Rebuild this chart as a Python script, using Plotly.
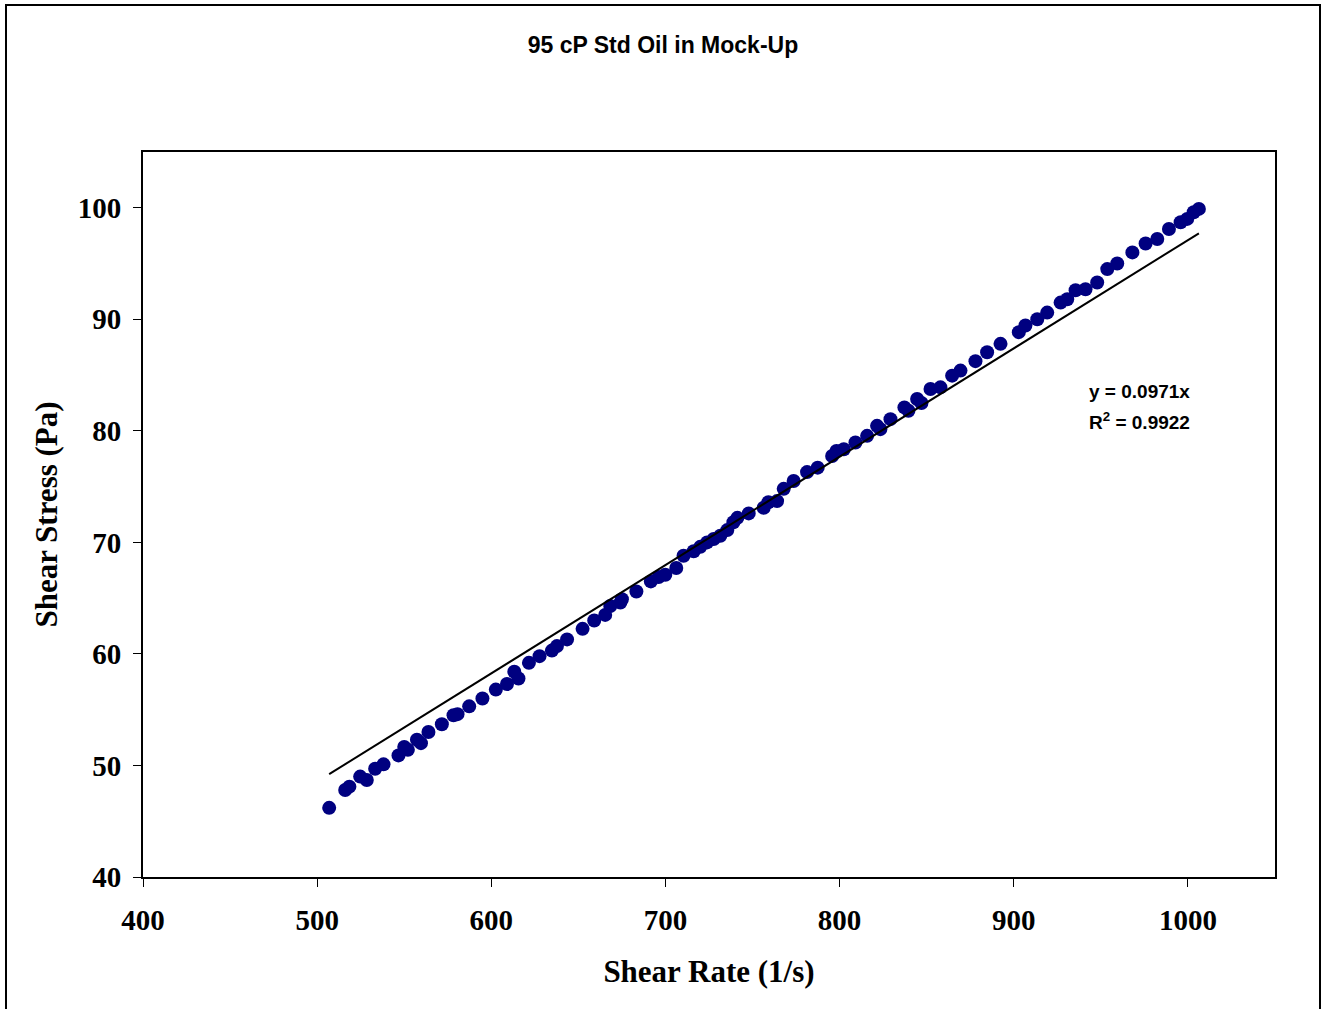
import plotly.graph_objects as go

# Measured shear rate (1/s) and shear stress (Pa)
shear_rate = [
    506.9, 516.1, 518.5, 524.7, 528.5, 533.3, 538.1, 546.7, 550.0, 552.1,
    557.3, 559.6, 563.9, 571.6, 578.3, 580.6, 587.3, 594.9, 602.6, 609.0,
    613.2, 615.6, 621.6, 627.7, 634.8, 637.7, 643.5, 652.4, 659.1, 665.4,
    668.3, 674.1, 675.0, 683.3, 691.6, 696.1, 699.9, 706.2, 710.4, 716.2,
    720.0, 723.9, 727.7, 731.5, 735.5, 739.0, 741.3, 747.8, 756.4, 759.1,
    764.1, 767.9, 773.6, 781.3, 787.4, 795.7, 798.2, 802.4, 809.1, 815.8,
    821.5, 823.4, 829.2, 837.2, 839.5, 844.5, 847.0, 852.2, 857.9, 864.6,
    869.4, 878.0, 884.7, 892.4, 902.9, 906.7, 913.5, 919.2, 926.9, 930.7,
    935.5, 941.2, 947.9, 953.7, 959.4, 968.1, 975.7, 982.4, 989.1, 995.8,
    999.6, 1003.3, 1006.3,
]
shear_stress = [
    46.2, 47.8, 48.1, 49.0, 48.7, 49.7, 50.1, 50.9, 51.65, 51.4,
    52.3, 52.0, 53.0, 53.7, 54.5, 54.6, 55.3, 56.0, 56.8, 57.3,
    58.4, 57.8, 59.2, 59.8, 60.3, 60.7, 61.3, 62.25, 63.0, 63.5,
    64.3, 64.6, 64.9, 65.6, 66.5, 66.9, 67.1, 67.7, 68.8, 69.2,
    69.6, 70.0, 70.3, 70.6, 71.1, 71.8, 72.2, 72.6, 73.1, 73.6,
    73.7, 74.8, 75.5, 76.3, 76.7, 77.75, 78.2, 78.35, 78.95, 79.55,
    80.45, 80.15, 81.05, 82.1, 81.8, 82.85, 82.5, 83.75, 83.9, 84.95,
    85.4, 86.25, 87.05, 87.8, 88.85, 89.45, 90.0, 90.6, 91.5, 91.8,
    92.6, 92.7, 93.3, 94.5, 95.0, 96.0, 96.8, 97.2, 98.1, 98.7,
    99.0, 99.6, 99.9,
]

# Linear fit through the origin
fit_slope = 0.0971
fit_r2 = 0.9922

x_ticks = [400, 500, 600, 700, 800, 900, 1000]
y_ticks = [40, 50, 60, 70, 80, 90, 100]

fit_x = [min(shear_rate), max(shear_rate)]
fit_y = [fit_slope * v for v in fit_x]

fig = go.Figure()
fig.add_trace(go.Scatter(
    x=shear_rate, y=shear_stress, mode="markers",
    marker=dict(color="#000080", size=14, line=dict(width=0)),
    showlegend=False,
))
fig.add_trace(go.Scatter(
    x=fit_x, y=fit_y, mode="lines",
    line=dict(color="black", width=2),
    showlegend=False,
))

serif = "Liberation Serif, Times New Roman, serif"
sans = "Liberation Sans, Arial, sans-serif"

fig.update_layout(
    width=1322, height=1009,
    margin=dict(l=143, r=47, t=152, b=132),
    paper_bgcolor="white", plot_bgcolor="white",
    title=dict(
        text="<b>95 cP Std Oil in Mock-Up</b>",
        x=0.5015, xanchor="center", y=1 - 45 / 1009, yanchor="middle",
        yref="container", font=dict(family=sans, size=23, color="black"),
    ),
    xaxis=dict(
        range=[400, 1050], tickvals=x_ticks, ticktext=[str(t) for t in x_ticks],
        ticks="outside", ticklen=8, tickwidth=1, tickcolor="black",
        ticklabelstandoff=8,
        showline=True, linewidth=2, linecolor="black", mirror=True,
        showgrid=False, zeroline=False,
        tickfont=dict(family=serif, size=29, color="black", weight="bold"),
        title=dict(text="<b>Shear Rate (1/s)</b>", standoff=26,
                   font=dict(family=serif, size=31, color="black")),
    ),
    yaxis=dict(
        range=[40, 105], tickvals=y_ticks, ticktext=[str(t) for t in y_ticks],
        ticks="outside", ticklen=8, tickwidth=1, tickcolor="black",
        ticklabelstandoff=6,
        showline=True, linewidth=2, linecolor="black", mirror=True,
        showgrid=False, zeroline=False,
        tickfont=dict(family=serif, size=29, color="black", weight="bold"),
        title=dict(text="<b>Shear Stress (Pa)</b>", standoff=11,
                   font=dict(family=serif, size=31, color="black")),
    ),
    annotations=[
        dict(x=972, y=83.55, xref="x", yref="y", showarrow=False,
             text="<b>y = %.4fx</b>" % fit_slope,
             font=dict(family=sans, size=19, color="black")),
        dict(x=972, y=80.9, xref="x", yref="y", showarrow=False,
             text="<b>R<sup>2</sup> = %.4f</b>" % fit_r2,
             font=dict(family=sans, size=19, color="black")),
    ],
    shapes=[
        # outer chart-area border
        dict(type="rect", xref="paper", yref="paper",
             x0=(6 - 143) / 1132, x1=(1320 - 143) / 1132,
             y0=(877 - 1015) / 725, y1=(877 - 5) / 725,
             line=dict(color="black", width=2), fillcolor="rgba(0,0,0,0)",
             layer="below"),
    ],
)

fig.write_html("out.html")
